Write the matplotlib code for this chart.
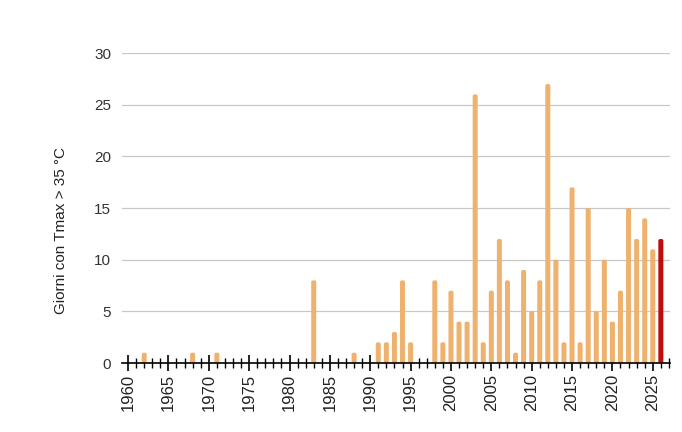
import matplotlib
matplotlib.use("Agg")
import matplotlib.pyplot as plt
from matplotlib.patches import FancyBboxPatch

plt.rcParams['font.family'] = ['Liberation Sans', 'DejaVu Sans']

years = list(range(1960, 2027))
values_map = {1962: 1, 1968: 1, 1971: 1, 1983: 8, 1988: 1, 1991: 2, 1992: 2, 1993: 3,
              1994: 8, 1995: 2, 1998: 8, 1999: 2, 2000: 7, 2001: 4, 2002: 4, 2003: 26,
              2004: 2, 2005: 7, 2006: 12, 2007: 8, 2008: 1, 2009: 9, 2010: 5, 2011: 8,
              2012: 27, 2013: 10, 2014: 2, 2015: 17, 2016: 2, 2017: 15, 2018: 5, 2019: 10,
              2020: 4, 2021: 7, 2022: 15, 2023: 12, 2024: 14, 2025: 11, 2026: 12}
values = [values_map.get(y, 0) for y in years]
highlight_year = 2026
ylabel = "Giorni con Tmax > 35 °C"

orange = "#EFB26E"
red = "#BE0E0C"
colors = [red if y == highlight_year else orange for y in years]

fig = plt.figure(figsize=(6.82, 4.32), dpi=100)
ax = fig.add_axes([0.179, 0.1597, 0.803, 0.7175])

bars = ax.bar(years, values, width=0.62, color=colors, zorder=3)

ax.set_xlim(1959.26, 2027.1)
ax.set_ylim(0, 30)

# round the bar tops
xpp = (2027.1 - 1959.26) / (0.803 * 682)
ypp = 30 / (0.7175 * 432)
aspect = ypp / xpp
for rect in bars.patches:
    h = rect.get_height()
    if h <= 0:
        rect.set_visible(False)
        continue
    x, y, w = rect.get_x(), rect.get_y(), rect.get_width()
    fb = FancyBboxPatch((x, y - 0.4), w, h + 0.4,
                        boxstyle="round,pad=0,rounding_size=0.22",
                        mutation_aspect=aspect, facecolor=rect.get_facecolor(),
                        edgecolor='none', zorder=3)
    ax.add_patch(fb)
    rect.set_visible(False)

ax.set_yticks(range(0, 31, 5))
ax.yaxis.grid(True, color="#C8C8C8", linewidth=0.9, zorder=0)
ax.tick_params(axis='y', length=0, labelsize=11, pad=8, colors="#333333")
ax.set_xticks(range(1960, 2027, 5))
ax.set_xticks(range(1960, 2028), minor=True)
ax.tick_params(axis='x', which='major', direction='inout', length=12, width=1.2,
               labelsize=12, labelrotation=90, pad=2, labelcolor="#222222")
ax.tick_params(axis='x', which='minor', direction='inout', length=7, width=1.0)
for s in ['left', 'right', 'top']:
    ax.spines[s].set_visible(False)
ax.spines['bottom'].set_color('black')
ax.spines['bottom'].set_linewidth(1.2)
ax.spines['bottom'].set_zorder(4)
ax.set_ylabel(ylabel, fontsize=11, color="#222222")
ax.yaxis.set_label_coords(-0.099, 0.429)

fig.savefig("out.png", dpi=100)
